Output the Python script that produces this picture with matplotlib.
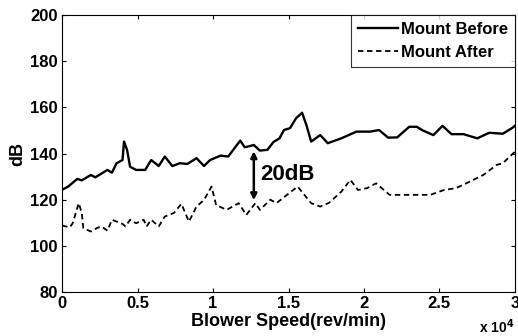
import numpy as np
import matplotlib
matplotlib.use('Agg')
import matplotlib.pyplot as plt

plt.rcParams['font.family'] = ['Liberation Sans', 'DejaVu Sans']
plt.rcParams['font.weight'] = 'bold'

# blower speed in units of 1e4 rev/min
speed_before = [0.0, 0.04, 0.10, 0.13, 0.19, 0.22, 0.30, 0.33, 0.36, 0.40, 0.41, 0.43,
                0.45, 0.49, 0.55, 0.59, 0.64, 0.68, 0.73, 0.78, 0.83, 0.89, 0.94, 0.98,
                1.05, 1.10, 1.18, 1.21, 1.27, 1.31, 1.36, 1.40, 1.44, 1.47, 1.51, 1.55,
                1.59, 1.62, 1.65, 1.71, 1.76, 1.85, 1.95, 2.04, 2.10, 2.16, 2.22, 2.30,
                2.35, 2.39, 2.46, 2.52, 2.58, 2.66, 2.75, 2.83, 2.92, 2.98, 3.0]
db_before = [124.3, 125.7, 129.0, 128.4, 130.7, 129.7, 132.9, 131.7, 135.8, 137.2, 145.2, 141.6,
             134.3, 132.9, 132.9, 137.2, 134.6, 138.7, 134.6, 135.8, 135.5, 138.0, 134.6, 137.2,
             139.1, 138.7, 145.6, 142.7, 143.7, 141.3, 141.6, 145.0, 146.6, 150.2, 151.0, 155.3,
             157.7, 152.0, 145.2, 148.0, 144.5, 146.6, 149.5, 149.5, 150.2, 146.9, 147.0, 151.6,
             151.6, 150.0, 148.0, 152.0, 148.4, 148.4, 146.6, 149.0, 148.6, 151.0, 152.0]

speed_after = [0.0, 0.05, 0.07, 0.11, 0.13, 0.14, 0.19, 0.23, 0.26, 0.30, 0.33, 0.40,
               0.42, 0.45, 0.49, 0.54, 0.56, 0.59, 0.64, 0.68, 0.74, 0.79, 0.84, 0.89,
               0.94, 0.99, 1.02, 1.09, 1.17, 1.22, 1.28, 1.31, 1.38, 1.42, 1.49, 1.56,
               1.65, 1.71, 1.77, 1.85, 1.91, 1.96, 2.02, 2.08, 2.17, 2.26, 2.35, 2.44,
               2.53, 2.61, 2.70, 2.79, 2.88, 2.92, 3.0]
db_after = [108.8, 108.0, 109.8, 118.5, 114.2, 107.7, 106.2, 107.7, 108.4, 106.6, 111.3, 109.5,
            108.4, 111.3, 109.8, 111.3, 108.4, 111.3, 108.4, 112.7, 114.2, 118.2, 110.5, 117.0,
            119.9, 125.7, 117.7, 115.6, 118.5, 113.4, 118.5, 115.6, 120.0, 118.5, 122.1, 125.7,
            118.5, 117.0, 118.7, 123.5, 128.6, 124.2, 125.0, 127.1, 122.1, 122.1, 122.1, 122.1,
            124.2, 125.0, 127.8, 130.7, 135.1, 135.8, 140.8]

xtick_vals = [0, 0.5, 1, 1.5, 2, 2.5, 3]
xtick_labels = ['0', '0.5', '1', '1.5', '2', '2.5', '3']
ytick_vals = [80, 100, 120, 140, 160, 180, 200]

fig = plt.figure(figsize=(5.18, 3.36), dpi=100)
ax = fig.add_axes([0.12, 0.131, 0.874, 0.824])

ax.plot(speed_before, db_before, color='black', lw=1.7, label='Mount Before')
ax.plot(speed_after, db_after, color='black', lw=1.3, ls=(0, (3, 2)), label='Mount After')

# 20 dB gap arrow
ax.annotate('', xy=(1.27, 119.8), xytext=(1.27, 141.0),
            arrowprops=dict(arrowstyle='<|-|>', color='black', lw=1.8,
                            mutation_scale=9, shrinkA=0, shrinkB=0))
ax.text(1.31, 131, '20dB', fontsize=16, fontweight='bold', va='center', ha='left')

ax.set_xlim(0, 3)
ax.set_ylim(80, 200)
ax.set_xticks(xtick_vals, xtick_labels, fontsize=12, fontweight='bold')
ax.set_yticks(ytick_vals, [str(v) for v in ytick_vals], fontsize=12, fontweight='bold')
ax.tick_params(direction='in', top=True, right=True, length=3, pad=3)

ax.set_xlabel('Blower Speed(rev/min)', fontsize=13, fontweight='bold', labelpad=1)
ax.set_ylabel('dB', fontsize=13, fontweight='bold', labelpad=3)
ax.text(1.0, -0.09, 'x 10$^{\\mathbf{4}}$', transform=ax.transAxes, ha='right', va='top',
        fontsize=10, fontweight='bold')

leg = ax.legend(loc='upper right', prop={'size': 12, 'weight': 'bold'}, frameon=True,
                fancybox=False, edgecolor='black', borderaxespad=0.0, handlelength=2.4,
                handletextpad=0.2, borderpad=0.4, labelspacing=0.5)
leg.get_frame().set_linewidth(0.8)

fig.savefig('out.png', dpi=100)
